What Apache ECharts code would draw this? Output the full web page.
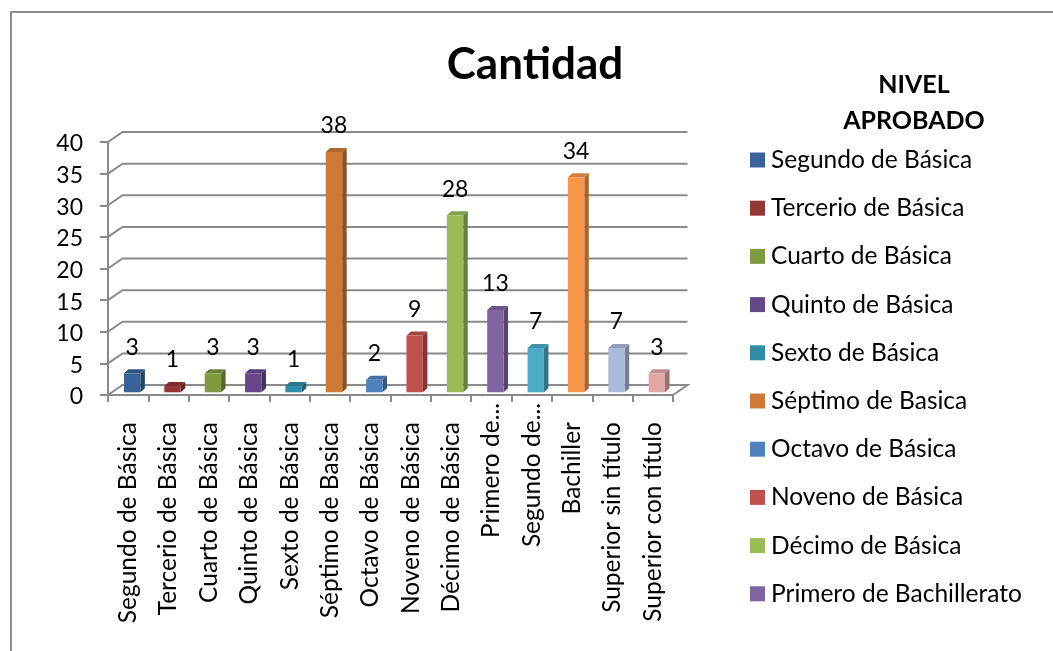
<!DOCTYPE html>
<html>
<head>
<meta charset="utf-8">
<style>
  html, body { margin: 0; padding: 0; background: #fff; }
  #chart { width: 1053px; height: 651px; }
</style>
<script src="https://cdn.jsdelivr.net/npm/echarts@6/dist/echarts.min.js"></script>
</head>
<body>
<div id="chart"></div>
<script>
const axisLabels = ['Segundo de Básica', 'Tercerio de Básica', 'Cuarto de Básica', 'Quinto de Básica', 'Sexto de Básica', 'Séptimo de Basica', 'Octavo de Básica', 'Noveno de Básica', 'Décimo de Básica', 'Primero de...', 'Segundo de...', 'Bachiller', 'Superior sin título', 'Superior con título'];
const legendNames = ['Segundo de Básica', 'Tercerio de Básica', 'Cuarto de Básica', 'Quinto de Básica', 'Sexto de Básica', 'Séptimo de Basica', 'Octavo de Básica', 'Noveno de Básica', 'Décimo de Básica', 'Primero de Bachillerato', 'Segundo de Bachillerato', 'Bachiller', 'Superior sin título', 'Superior con título'];
const values = [3, 1, 3, 3, 1, 38, 2, 9, 28, 13, 7, 34, 7, 3];
const yTicks = [0, 5, 10, 15, 20, 25, 30, 35, 40];
const barColors = ['#376399', '#953735', '#7F9A41', '#66478A', '#318CA6', '#CC7A35', '#4F81BD', '#C0504D', '#9BBB59', '#8064A2', '#4BACC6', '#F79646', '#AABBDB', '#DFA8A7'];

const FONT = 'Lato';
const AXIS_COLOR = '#8a8a8a';
const DEPTH_X = 14.5;     // pared del fondo
const DEPTH_Y = 10;
const BAR_W = 16.4;

// oscurece un color para las caras laterales
function shade(hex, k) {
  const n = parseInt(hex.slice(1), 16);
  const c = [n >> 16, (n >> 8) & 255, n & 255].map(v => Math.round(v * k));
  return 'rgb(' + c.join(',') + ')';
}

function renderWall(params, api) {
  const p = api.coord([0, api.value(0)]);
  const x0 = params.coordSys.x;
  const x1 = x0 + params.coordSys.width;
  const pts = [[x0, p[1]], [x0 + DEPTH_X, p[1] - DEPTH_Y], [x1 + DEPTH_X, p[1] - DEPTH_Y]];
  if (api.value(0) === 0) {
    pts.push([x1, p[1]]);
  }
  return {
    type: 'polyline',
    shape: { points: pts },
    style: { fill: 'none', stroke: AXIS_COLOR, lineWidth: 2 },
    silent: true
  };
}

function renderBar(params, api) {
  const idx = api.value(0);
  const val = api.value(1);
  const base = api.coord([idx, 0]);
  const top = api.coord([idx, val]);
  const color = barColors[idx];
  const l = base[0] + 4 - BAR_W / 2;
  const r = l + BAR_W;
  const b = base[1] - 2.7;
  const t = top[1] - 2.7;
  const dx = 4.5;
  const dy = 4;
  return {
    type: 'group',
    children: [
      { type: 'polygon', shape: { points: [[r, t], [r + dx, t - dy], [r + dx, b - dy], [r, b]] }, style: { fill: shade(color, 0.68) } },
      { type: 'polygon', shape: { points: [[l, t], [l + dx, t - dy], [r + dx, t - dy], [r, t]] }, style: { fill: shade(color, 0.85) } },
      { type: 'rect', shape: { x: l, y: t, width: BAR_W, height: b - t }, style: { fill: color } },
      {
        type: 'text',
        x: (l + r) / 2,
        y: t - 26,
        style: { text: String(val), fill: '#000', font: '23px ' + FONT, textAlign: 'center', textVerticalAlign: 'middle' }
      }
    ]
  };
}

const chart = echarts.init(document.getElementById('chart'), null, { renderer: 'canvas' });

const barSeries = values.map((v, i) => ({
  type: 'custom',
  name: legendNames[i],
  coordinateSystem: 'cartesian2d',
  itemStyle: { color: barColors[i] },
  encode: { x: 0, y: 1 },
  clip: false,
  z: 3,
  renderItem: renderBar,
  data: [[i, v]]
}));

// las etiquetas cortadas ("...") empiezan mas cerca del eje
const xCategories = axisLabels.map(name => (
  name.endsWith('...') ? { value: name, textStyle: { padding: 0 } } : name
));

chart.setOption({
  backgroundColor: '#fff',
  animation: false,
  title: [
    {
      text: 'Cantidad',
      left: 530,
      top: 38,
      textAlign: 'center',
      textStyle: { fontFamily: FONT, fontSize: 44, fontWeight: 'bold', color: '#000' }
    },
    {
      text: 'NIVEL\nAPROBADO',
      left: 909,
      top: 62,
      textAlign: 'center',
      textStyle: { fontFamily: FONT, fontSize: 25, fontWeight: 'bold', color: '#000', lineHeight: 36 }
    }
  ],
  legend: {
    orient: 'vertical',
    left: 750,
    top: 147,
    padding: 0,
    itemWidth: 15,
    itemHeight: 15,
    itemGap: 22.2,
    icon: 'rect',
    selectedMode: false,
    data: legendNames.slice(0, 10),
    textStyle: { fontFamily: FONT, fontSize: 24.5, color: '#000', padding: [0, 0, 0, 1], lineHeight: 26 }
  },
  grid: { left: 108, right: 380, top: 142, bottom: 256 },
  xAxis: {
    type: 'category',
    data: xCategories,
    boundaryGap: true,
    axisLine: { lineStyle: { color: AXIS_COLOR, width: 2 } },
    axisTick: { show: true, length: 7, lineStyle: { color: AXIS_COLOR, width: 2 } },
    axisLabel: { rotate: 90, interval: 0, margin: 8, padding: [0, 19, 0, 0], fontFamily: FONT, fontSize: 24.5, color: '#000' }
  },
  yAxis: {
    type: 'value',
    min: 0,
    max: 40,
    interval: 5,
    axisLine: { show: true, lineStyle: { color: AXIS_COLOR, width: 2 } },
    axisTick: { show: true, length: 8, lineStyle: { color: AXIS_COLOR, width: 2 } },
    axisLabel: { margin: 25, verticalAlign: 'top', lineHeight: 4, fontFamily: FONT, fontSize: 23, color: '#000' },
    splitLine: { show: false }
  },
  graphic: [
    { type: 'polyline', shape: { points: [[11, 651], [11, 12], [1053, 12]] }, style: { fill: 'none', stroke: '#8c8c8c', lineWidth: 2 }, silent: true }
  ],
  series: [
    {
      type: 'custom',
      coordinateSystem: 'cartesian2d',
      clip: false,
      silent: true,
      z: 1,
      encode: { x: -1, y: 0 },
      renderItem: renderWall,
      data: yTicks.map(v => [v])
    }
  ].concat(barSeries)
});
</script>
</body>
</html>
